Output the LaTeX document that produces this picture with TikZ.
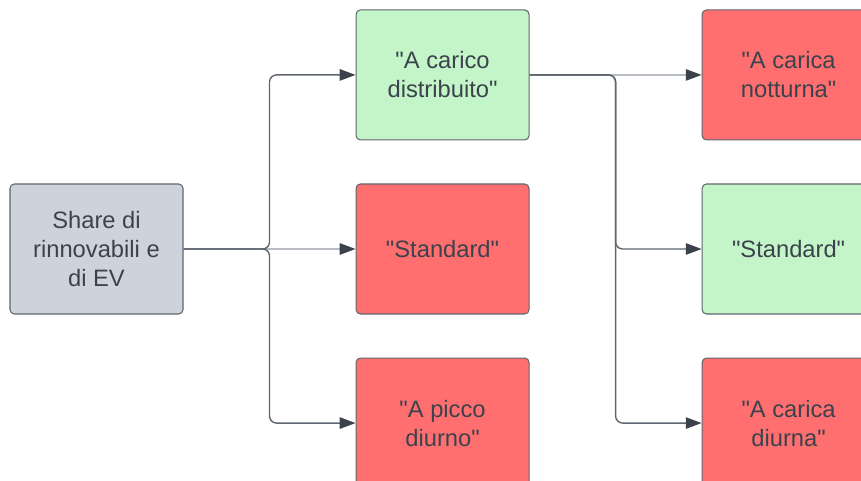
\documentclass[tikz,border=0pt]{standalone}
\usepackage{fontspec}
\newfontfamily\boxfont{Liberation Sans}
\usetikzlibrary{arrows.meta,positioning,calc}
\definecolor{inkgray}{HTML}{3B424C}
\definecolor{edgegray}{HTML}{5F6670}
\definecolor{lightedge}{HTML}{B8BCC2}
\definecolor{greybox}{HTML}{CDD3DC}
\definecolor{greenbox}{HTML}{C3F5C8}
\definecolor{redbox}{HTML}{FF6F6F}
\tikzset{
    box/.style =    {rectangle,
                    rounded corners=2.5pt,
                    draw=edgegray,
                    line width=0.6pt,
                    text=inkgray,
                    align=center,
                    font=\boxfont\fontsize{13.5}{16.5}\selectfont,
                    minimum width=3.46cm,
                    minimum height=2.6cm},
    input/.style =  {box, fill=greybox},
    good/.style =   {box, fill=greenbox},
    bad/.style =    {box, fill=redbox},
    link/.style =   {draw=edgegray,
                    line width=0.8pt,
                    rounded corners=4pt,
                    -{Triangle[length=9pt,width=6.5pt]},
                    arrows={[color=inkgray]}},
    straight/.style = {link, draw=lightedge},
    node distance=0.86cm and 3.44cm}

\begin{document}
\begin{tikzpicture}
        \useasboundingbox (0,0) rectangle (17.22,-9.62);
                \node[input]    (share) at (1.93,-4.98)       {Share di\\rinnovabili e\\di EV};
                \node[bad]      (std1)  [right=of share]      {"Standard"};
                \node[good]     (dist)  [above=of std1]       {"A carico\\distribuito"};
                \node[bad]      (picco) [below=of std1]       {"A picco\\diurno"};
                \node[good]     (std2)  [right=of std1]       {"Standard"};
                \node[bad]      (nott)  [above=of std2]       {"A carica\\notturna"};
                \node[bad]      (diur)  [below=of std2]       {"A carica\\diurna"};
                \coordinate     (j1) at ($(share.east)!0.5!(std1.west)$);
                \coordinate     (j2) at ($(dist.east)!0.5!(nott.west)$);
                \draw[straight] (share.east) -- (std1.west);
                \draw[straight] (dist.east) -- (nott.west);
                \draw[link] (share.east) -- (j1) |- (dist.west);
                \draw[link] (share.east) -- (j1) |- (picco.west);
                \draw[link] (dist.east) -- (j2) |- (std2.west);
                \draw[link] (dist.east) -- (j2) |- (diur.west);
        \end{tikzpicture}
\end{document}
